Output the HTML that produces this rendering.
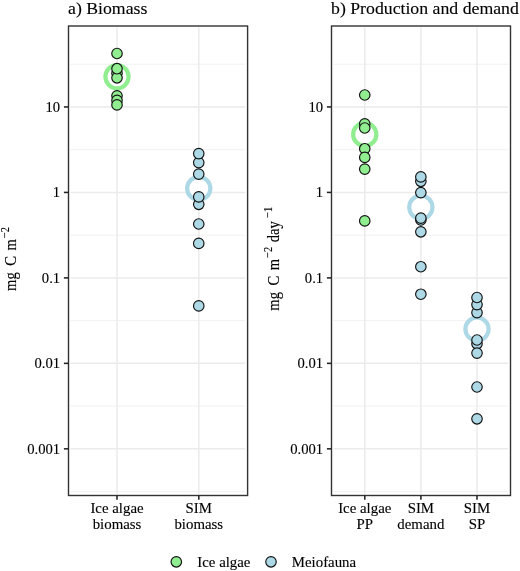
<!DOCTYPE html>
<html><head><meta charset="utf-8"><title>Figure</title>
<style>
html,body{margin:0;padding:0;background:#fff;}
svg{display:block;will-change:transform;}
text{font-family:"Liberation Serif",serif;fill:#000;stroke:#000;stroke-width:0.12px;}
.t{font-size:17.75px;}
.a{font-size:14.67px;}
.x{font-size:14.85px;}
.s{font-size:10.3px;}
.g{stroke:#EBEBEB;stroke-width:1.5;fill:none;}
.gm{stroke:#EBEBEB;stroke-width:0.7;fill:none;}
.tk{stroke:#222;stroke-width:1.55;fill:none;}
.p{stroke:#111;stroke-width:1.15;}
.r{fill:#fff;stroke-width:4.2;}
</style></head><body>
<svg width="520" height="571" viewBox="0 0 520 571">
<rect width="520" height="571" fill="#fff"/>
<path class="gm" d="M70.5 64.22H245.3"/>
<path class="gm" d="M70.5 149.69H245.3"/>
<path class="gm" d="M70.5 235.15H245.3"/>
<path class="gm" d="M70.5 320.62H245.3"/>
<path class="gm" d="M70.5 406.09H245.3"/>
<path class="gm" d="M70.5 491.56H245.3"/>
<path class="g" d="M70.5 106.95H245.3"/>
<path class="g" d="M70.5 192.42H245.3"/>
<path class="g" d="M70.5 277.89H245.3"/>
<path class="g" d="M70.5 363.36H245.3"/>
<path class="g" d="M70.5 448.83H245.3"/>
<path class="g" d="M117.0 27.5V494.0"/>
<path class="g" d="M198.8 27.5V494.0"/>
<path class="gm" d="M333.5 64.22H508.2"/>
<path class="gm" d="M333.5 149.69H508.2"/>
<path class="gm" d="M333.5 235.15H508.2"/>
<path class="gm" d="M333.5 320.62H508.2"/>
<path class="gm" d="M333.5 406.09H508.2"/>
<path class="gm" d="M333.5 491.56H508.2"/>
<path class="g" d="M333.5 106.95H508.2"/>
<path class="g" d="M333.5 192.42H508.2"/>
<path class="g" d="M333.5 277.89H508.2"/>
<path class="g" d="M333.5 363.36H508.2"/>
<path class="g" d="M333.5 448.83H508.2"/>
<path class="g" d="M364.8 27.5V494.0"/>
<path class="g" d="M420.9 27.5V494.0"/>
<path class="g" d="M477.0 27.5V494.0"/>
<!-- rings -->
<circle class="r" cx="117.0" cy="76.7" r="11.6" stroke="#90EE90"/>
<circle class="r" cx="198.75" cy="188.4" r="11.6" stroke="#ADD8E6"/>
<circle class="r" cx="364.75" cy="134.4" r="11.6" stroke="#90EE90"/>
<circle class="r" cx="420.85" cy="207.3" r="11.6" stroke="#ADD8E6"/>
<circle class="r" cx="477.0" cy="329.1" r="11.6" stroke="#ADD8E6"/>
<!-- points -->
<circle class="p" cx="117.0" cy="73.2" r="5.25" fill="#90EE90"/>
<circle class="p" cx="117.0" cy="53.5" r="5.25" fill="#90EE90"/>
<circle class="p" cx="117.0" cy="77.8" r="5.25" fill="#90EE90"/>
<circle class="p" cx="117.0" cy="68.7" r="5.25" fill="#90EE90"/>
<circle class="p" cx="117.0" cy="95.8" r="5.25" fill="#90EE90"/>
<circle class="p" cx="117.0" cy="100.4" r="5.25" fill="#90EE90"/>
<circle class="p" cx="117.0" cy="104.9" r="5.25" fill="#90EE90"/>
<circle class="p" cx="198.75" cy="162.6" r="5.25" fill="#ADD8E6"/>
<circle class="p" cx="198.75" cy="153.6" r="5.25" fill="#ADD8E6"/>
<circle class="p" cx="198.75" cy="174.1" r="5.25" fill="#ADD8E6"/>
<circle class="p" cx="198.75" cy="204.3" r="5.25" fill="#ADD8E6"/>
<circle class="p" cx="198.75" cy="196.9" r="5.25" fill="#ADD8E6"/>
<circle class="p" cx="198.75" cy="224.0" r="5.25" fill="#ADD8E6"/>
<circle class="p" cx="198.75" cy="243.4" r="5.25" fill="#ADD8E6"/>
<circle class="p" cx="198.75" cy="305.9" r="5.25" fill="#ADD8E6"/>
<circle class="p" cx="364.75" cy="95.0" r="5.25" fill="#90EE90"/>
<circle class="p" cx="364.75" cy="123.8" r="5.25" fill="#90EE90"/>
<circle class="p" cx="364.75" cy="128.0" r="5.25" fill="#90EE90"/>
<circle class="p" cx="364.75" cy="148.7" r="5.25" fill="#90EE90"/>
<circle class="p" cx="364.75" cy="157.4" r="5.25" fill="#90EE90"/>
<circle class="p" cx="364.75" cy="169.1" r="5.25" fill="#90EE90"/>
<circle class="p" cx="364.75" cy="220.9" r="5.25" fill="#90EE90"/>
<circle class="p" cx="420.85" cy="181.3" r="5.25" fill="#ADD8E6"/>
<circle class="p" cx="420.85" cy="176.9" r="5.25" fill="#ADD8E6"/>
<circle class="p" cx="420.85" cy="192.6" r="5.25" fill="#ADD8E6"/>
<circle class="p" cx="420.85" cy="220.0" r="5.25" fill="#ADD8E6"/>
<circle class="p" cx="420.85" cy="218.1" r="5.25" fill="#ADD8E6"/>
<circle class="p" cx="420.85" cy="231.8" r="5.25" fill="#ADD8E6"/>
<circle class="p" cx="420.85" cy="266.7" r="5.25" fill="#ADD8E6"/>
<circle class="p" cx="420.85" cy="294.2" r="5.25" fill="#ADD8E6"/>
<circle class="p" cx="477.0" cy="312.6" r="5.25" fill="#ADD8E6"/>
<circle class="p" cx="477.0" cy="304.6" r="5.25" fill="#ADD8E6"/>
<circle class="p" cx="477.0" cy="297.5" r="5.25" fill="#ADD8E6"/>
<circle class="p" cx="477.0" cy="343.8" r="5.25" fill="#ADD8E6"/>
<circle class="p" cx="477.0" cy="340.0" r="5.25" fill="#ADD8E6"/>
<circle class="p" cx="477.0" cy="353.1" r="5.25" fill="#ADD8E6"/>
<circle class="p" cx="477.0" cy="387.0" r="5.25" fill="#ADD8E6"/>
<circle class="p" cx="477.0" cy="418.8" r="5.25" fill="#ADD8E6"/>
<rect x="68.5" y="26.0" width="179.1" height="469.5" fill="none" stroke="#333333" stroke-width="1.4"/>
<path class="tk" d="M63.9 106.95H68.5"/>
<text class="a" x="60.2" y="111.75" text-anchor="end">10</text>
<path class="tk" d="M63.9 192.42H68.5"/>
<text class="a" x="60.2" y="197.22" text-anchor="end">1</text>
<path class="tk" d="M63.9 277.89H68.5"/>
<text class="a" x="60.2" y="282.69" text-anchor="end">0.1</text>
<path class="tk" d="M63.9 363.36H68.5"/>
<text class="a" x="60.2" y="368.16" text-anchor="end">0.01</text>
<path class="tk" d="M63.9 448.83H68.5"/>
<text class="a" x="60.2" y="453.63" text-anchor="end">0.001</text>
<path class="tk" d="M117.0 495.5V499.8"/>
<path class="tk" d="M198.8 495.5V499.8"/>
<text class="t" x="68.0" y="13.9">a) Biomass</text>
<rect x="331.5" y="26.0" width="179.0" height="469.5" fill="none" stroke="#333333" stroke-width="1.4"/>
<path class="tk" d="M326.9 106.95H331.5"/>
<text class="a" x="323.2" y="111.75" text-anchor="end">10</text>
<path class="tk" d="M326.9 192.42H331.5"/>
<text class="a" x="323.2" y="197.22" text-anchor="end">1</text>
<path class="tk" d="M326.9 277.89H331.5"/>
<text class="a" x="323.2" y="282.69" text-anchor="end">0.1</text>
<path class="tk" d="M326.9 363.36H331.5"/>
<text class="a" x="323.2" y="368.16" text-anchor="end">0.01</text>
<path class="tk" d="M326.9 448.83H331.5"/>
<text class="a" x="323.2" y="453.63" text-anchor="end">0.001</text>
<path class="tk" d="M364.8 495.5V499.8"/>
<path class="tk" d="M420.9 495.5V499.8"/>
<path class="tk" d="M477.0 495.5V499.8"/>
<text class="t" x="331.0" y="13.9">b) Production and demand</text>
<text class="x" x="117.0" y="513.4" text-anchor="middle">Ice algae</text>
<text class="x" x="117.0" y="529.0" text-anchor="middle">biomass</text>
<text class="x" x="198.75" y="513.4" text-anchor="middle">SIM</text>
<text class="x" x="198.75" y="529.0" text-anchor="middle">biomass</text>
<text class="x" x="364.75" y="513.4" text-anchor="middle">Ice algae</text>
<text class="x" x="364.75" y="529.0" text-anchor="middle">PP</text>
<text class="x" x="420.85" y="513.4" text-anchor="middle">SIM</text>
<text class="x" x="420.85" y="529.0" text-anchor="middle">demand</text>
<text class="x" x="477.0" y="513.4" text-anchor="middle">SIM</text>
<text class="x" x="477.0" y="529.0" text-anchor="middle">SP</text>
<g transform="translate(16.3,291.0) rotate(-90) scale(1,1.2)"><text class="a" x="0" y="0">mg</text><text class="a" x="25.2" y="0">C</text><text class="a" x="40.4" y="0">m</text><text class="s" x="52.9" y="-6.1">−2</text></g>
<g transform="translate(278.9,310.7) rotate(-90) scale(1,1.2)"><text class="a" x="0" y="0">mg</text><text class="a" x="25.2" y="0">C</text><text class="a" x="40.4" y="0">m</text><text class="s" x="52.9" y="-6.1">−2</text><text class="a" x="68.4" y="0">day</text><text class="s" x="93.0" y="-6.1">−1</text></g>
<circle class="p" cx="176.3" cy="561.8" r="5.25" fill="#90EE90"/>
<text class="x" x="197.3" y="566.6">Ice algae</text>
<circle class="p" cx="271" cy="561.8" r="5.25" fill="#ADD8E6"/>
<text class="x" x="291.8" y="566.6">Meiofauna</text>
</svg></body></html>
